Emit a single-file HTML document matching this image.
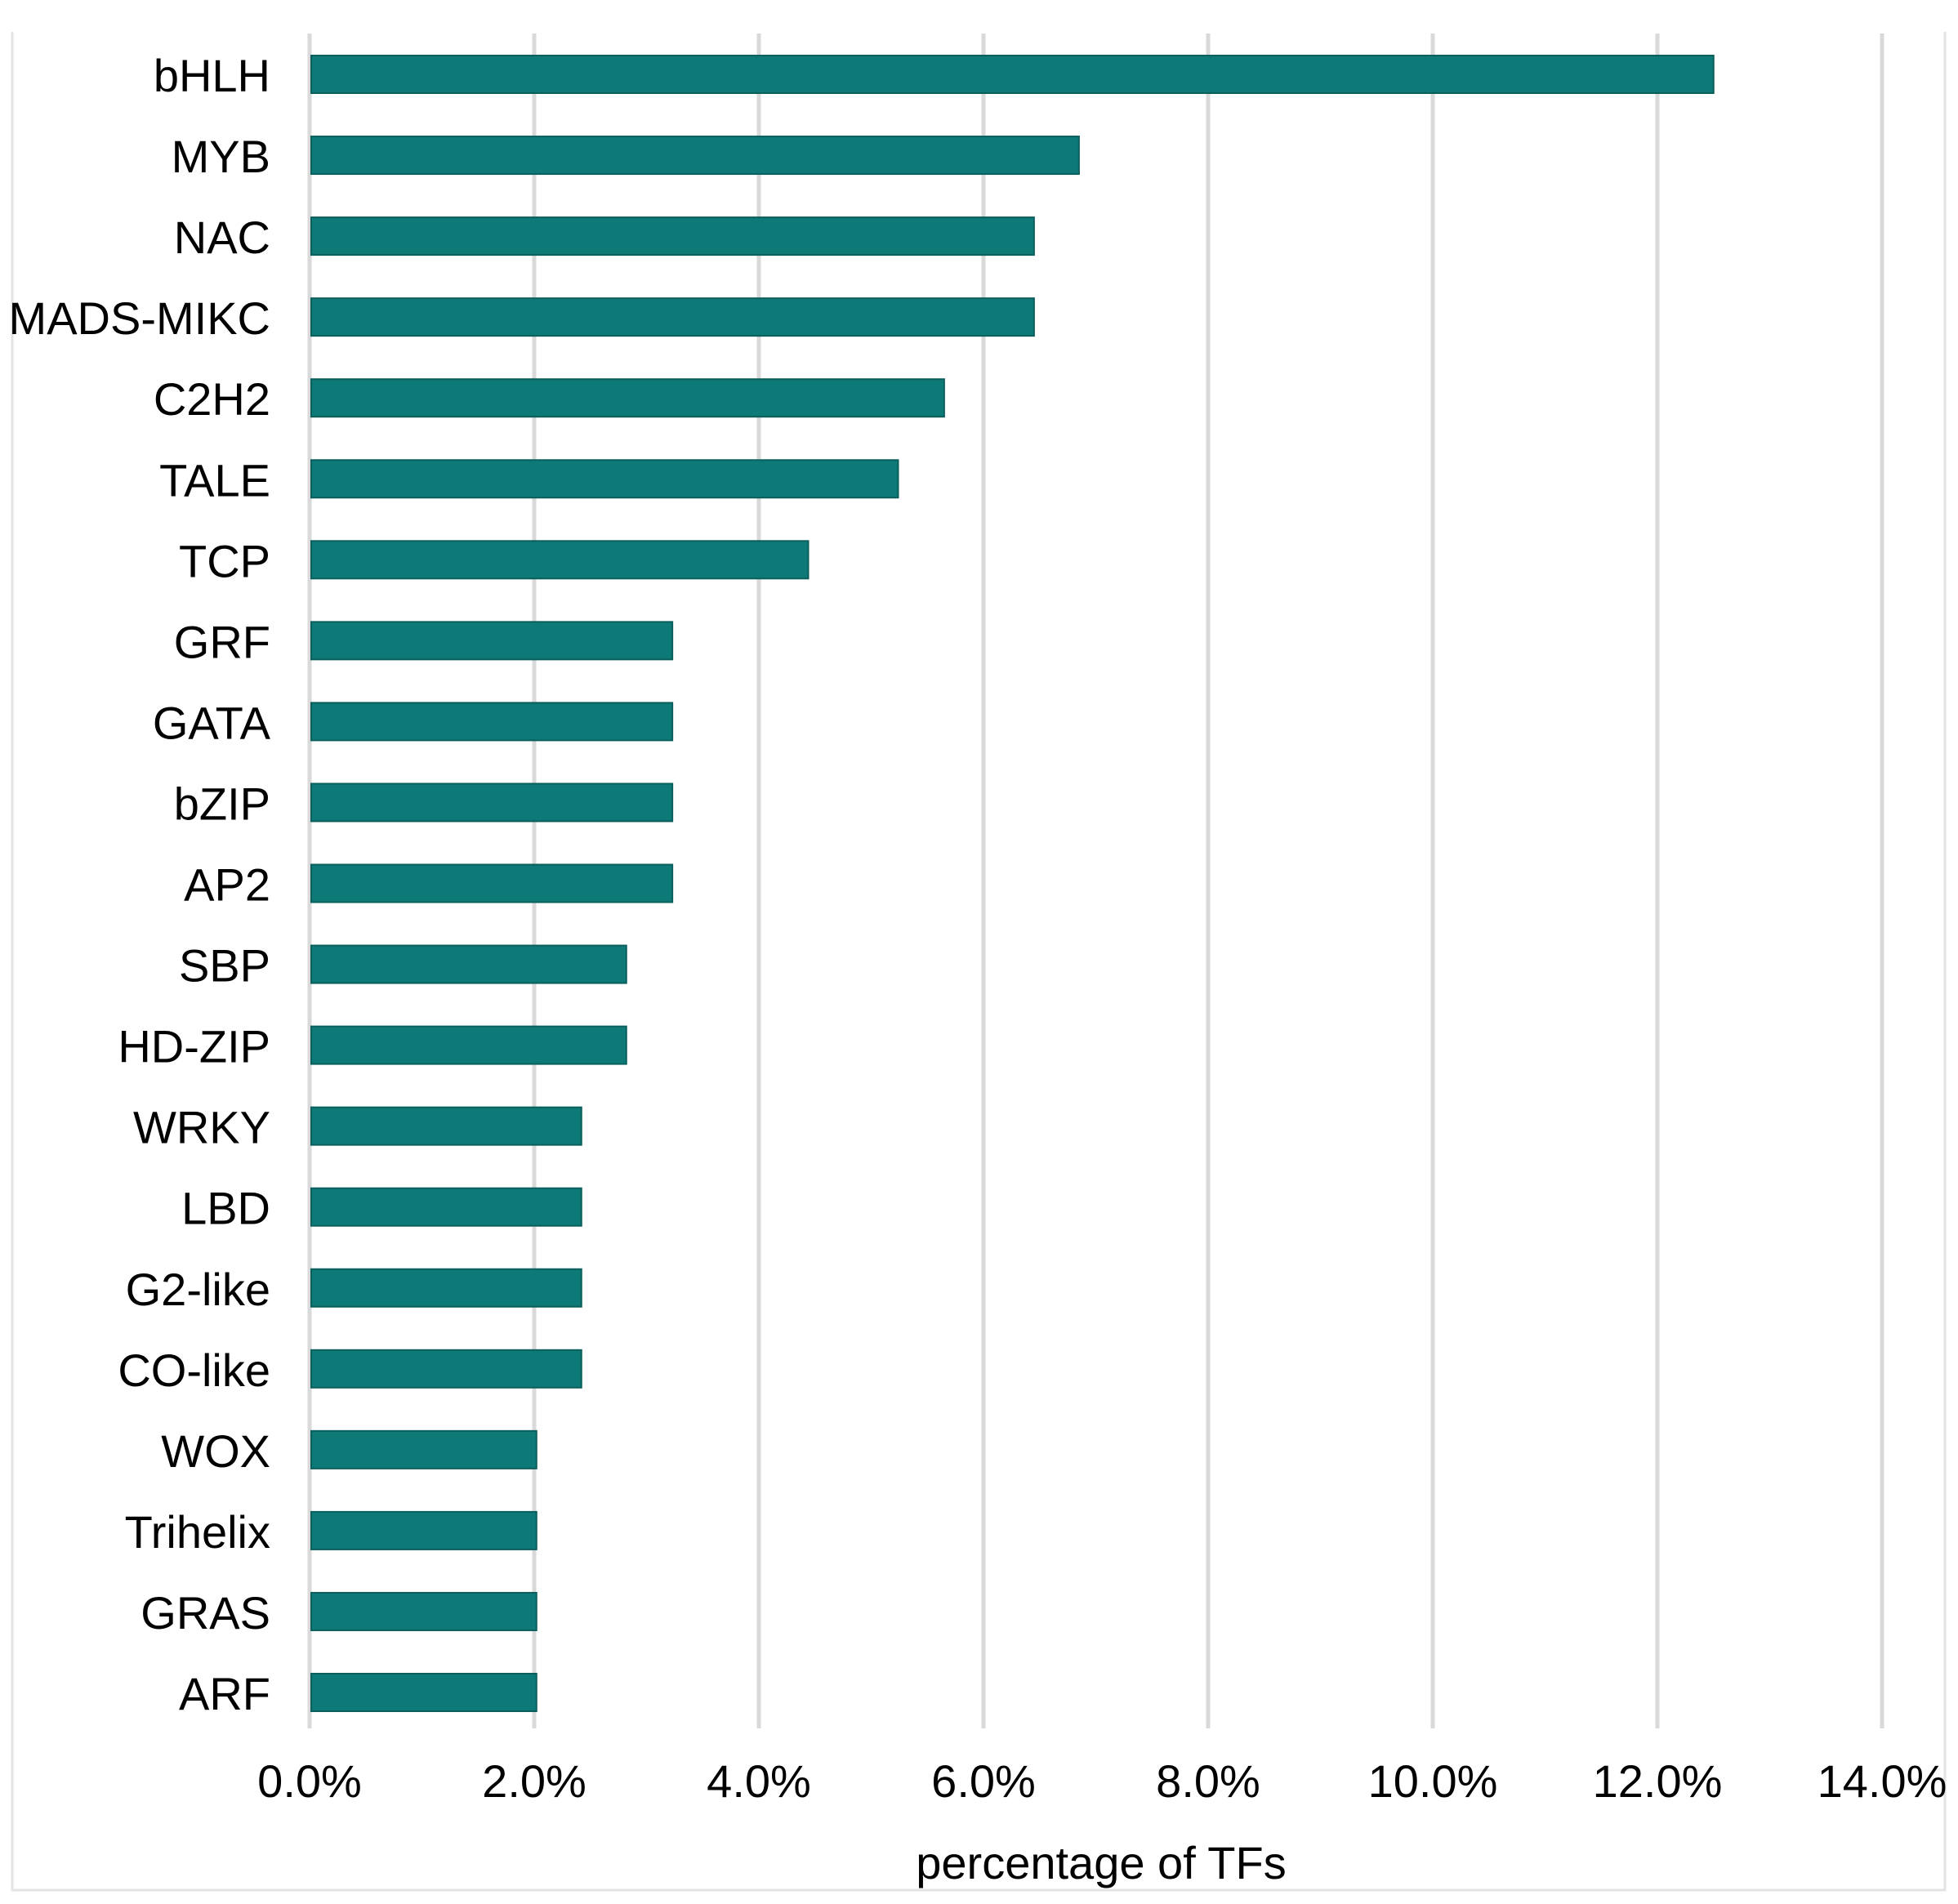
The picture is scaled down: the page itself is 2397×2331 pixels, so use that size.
<!DOCTYPE html>
<html><head><meta charset="utf-8"><style>
html,body{margin:0;padding:0;background:#fff;}
svg{display:block;font-family:"Liberation Sans",Arial,sans-serif;}
</style></head><body>
<svg id="chart" width="2397" height="2331" viewBox="0 0 2397 2331">
<path d="M15 39 V2314 H2381 V39" fill="none" stroke="#e3e3e3" stroke-width="3"/>
<g id="grid"></g>
<g id="bars"></g>
<g id="ylabels"></g>
<g id="xlabels"></g>
<text x="1348" y="2300" font-size="56" text-anchor="middle" fill="#000">percentage of TFs</text>
</svg>
<script>
const categories = ["bHLH","MYB","NAC","MADS-MIKC","C2H2","TALE","TCP","GRF","GATA","bZIP","AP2","SBP","HD-ZIP","WRKY","LBD","G2-like","CO-like","WOX","Trihelix","GRAS","ARF"];
const values = [12.50,6.85,6.45,6.45,5.65,5.24,4.44,3.23,3.23,3.23,3.23,2.82,2.82,2.42,2.42,2.42,2.42,2.02,2.02,2.02,2.02];
const ticks = [0,2,4,6,8,10,12,14];
const tickLabels = ["0.0%","2.0%","4.0%","6.0%","8.0%","10.0%","12.0%","14.0%"];

const NS = "http://www.w3.org/2000/svg";
const x0 = 379, xMax = 2304, maxV = 14;
const xs = v => x0 + (v / maxV) * (xMax - x0);
const yTop = 41, yBot = 2116;
const c0 = 91, pitch = 99.05, barH = 46;
const yc = i => c0 + i * pitch;

const grid = document.getElementById('grid');
const xl = document.getElementById('xlabels');
ticks.forEach((t, i) => {
  const l = document.createElementNS(NS, 'line');
  l.setAttribute('x1', xs(t)); l.setAttribute('x2', xs(t));
  l.setAttribute('y1', yTop); l.setAttribute('y2', yBot);
  l.setAttribute('stroke', '#d9d9d9'); l.setAttribute('stroke-width', '5');
  
  
  grid.appendChild(l);
  const tx = document.createElementNS(NS, 'text');
  tx.setAttribute('x', xs(t)); tx.setAttribute('y', 2200);
  tx.setAttribute('font-size', '56'); tx.setAttribute('text-anchor', 'middle');
  tx.textContent = tickLabels[i];
  
  
  xl.appendChild(tx);
});

const bars = document.getElementById('bars');
const yl = document.getElementById('ylabels');
categories.forEach((c, i) => {
  const r = document.createElementNS(NS, 'rect');
  r.setAttribute('x', xs(0) + 2); r.setAttribute('y', yc(i) - barH / 2);
  r.setAttribute('width', xs(values[i]) - xs(0) - 2); r.setAttribute('height', barH);
  r.setAttribute('fill', '#0e7a78'); r.setAttribute('stroke', '#0a5f5d'); r.setAttribute('stroke-width', '2');
  
  
  bars.appendChild(r);
  const t = document.createElementNS(NS, 'text');
  t.setAttribute('x', 331); t.setAttribute('y', yc(i) + 21);
  t.setAttribute('font-size', '56'); t.setAttribute('text-anchor', 'end');
  t.textContent = c;
  
  
  yl.appendChild(t);
});
</script>
</body></html>
